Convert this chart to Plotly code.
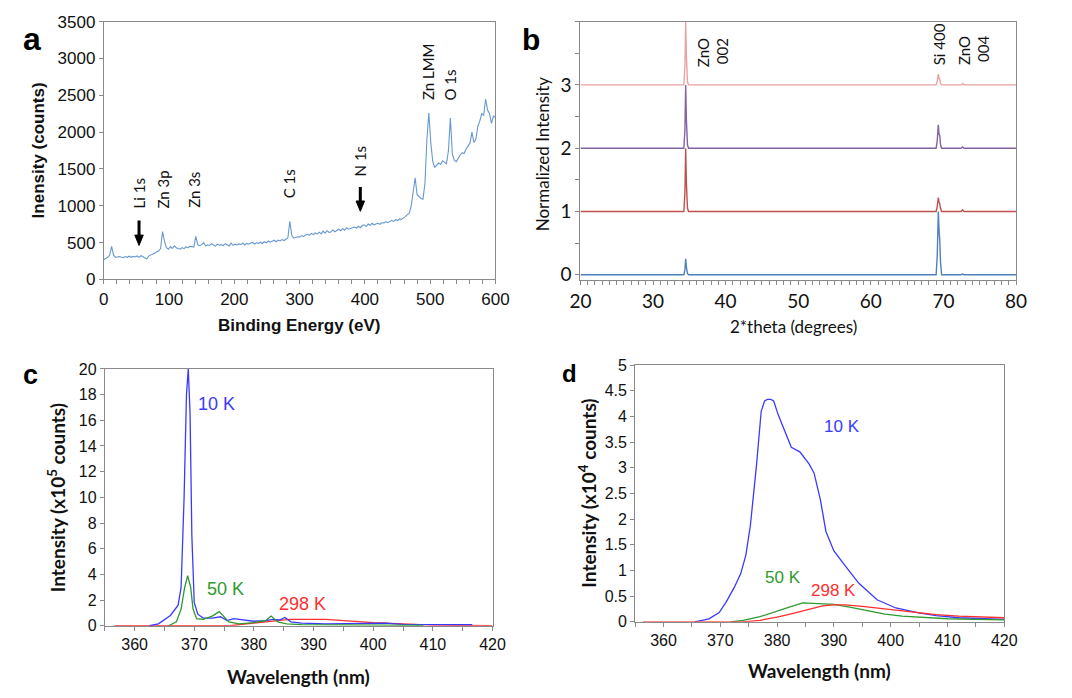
import plotly.graph_objects as go

# ---------------- (a) XPS survey spectrum ----------------
XPS_STEP_EV = 3
xps_counts = [
    270, 285, 300, 330, 450, 330, 300, 305, 310, 300,
    295, 310, 300, 315, 300, 312, 305, 318, 300, 322,
    312, 290, 280, 320, 330, 345, 355, 375, 385, 420,
    650, 520, 430, 410, 445, 420, 455, 430, 425, 410,
    432, 418, 445, 430, 452, 440, 438, 585, 470, 458,
    472, 500, 455, 470, 462, 485, 468, 452, 478, 465,
    472, 458, 485, 468, 455, 492, 462, 478, 468, 482,
    475, 492, 468, 488, 478, 495, 502, 480, 498, 490,
    505, 488, 512, 498, 522, 505, 515, 532, 512, 535,
    525, 542, 528, 548, 562, 790, 600, 560, 572, 580,
    575, 595, 582, 605, 612, 598, 625, 608, 630, 615,
    642, 618, 655, 628, 662, 640, 645, 672, 648, 662,
    682, 662, 692, 668, 702, 682, 692, 705, 712, 698,
    722, 702, 732, 742, 718, 752, 735, 762, 742, 752,
    762, 748, 772, 765, 785, 770, 792, 802, 788, 812,
    800, 822, 815, 832, 852, 880, 900, 1000, 1200, 1380,
    1150, 1120, 1100, 1090, 1300, 1900, 2260, 1850, 1600, 1520,
    1545, 1580, 1560, 1610, 1590, 1570, 1750, 2190, 1700, 1620,
    1600, 1650, 1690, 1720, 1710, 1770, 1820, 1850, 2000, 1860,
    1900, 2080, 2150, 2250, 2230, 2450, 2300, 2250, 2120, 2220,
    2200,
]
xps_energy = [i * XPS_STEP_EV for i in range(len(xps_counts))]

xps_peak_names = ["Li 1s", "Zn 3p", "Zn 3s", "C 1s", "N 1s", "Zn LMM", "O 1s"]
xps_peak_ev = [54, 91, 139, 284, 392, 497, 530]

# ---------------- (b) XRD patterns (normalized, stacked) ----------------
xrd_two_theta = [20.0, 33.2, 33.35, 33.5, 34.25, 34.4, 34.5, 34.6, 34.75, 34.9,
                 69.0, 69.15, 69.3, 69.4, 69.5, 69.6, 69.75, 72.45, 72.65, 72.85, 80.0]
xrd_sample0 = [0, 0, 0.01, 0, 0, 0.08, 0.25, 0.12, 0.02, 0,
               0, 0.3, 1.0, 0.7, 0.55, 0.2, 0, 0, 0.01, 0, 0]
xrd_sample1 = [0, 0, 0, 0, 0, 0.3, 1.0, 0.45, 0.05, 0,
               0, 0.08, 0.22, 0.15, 0.12, 0.05, 0, 0, 0.025, 0, 0]
xrd_sample2 = [0, 0, 0, 0, 0, 0.3, 1.0, 0.45, 0.05, 0,
               0, 0.12, 0.37, 0.22, 0.2, 0.06, 0, 0, 0.02, 0, 0]
xrd_sample3 = [0, 0, 0, 0, 0, 0.3, 1.0, 0.45, 0.05, 0,
               0, 0.06, 0.17, 0.1, 0.09, 0.03, 0, 0, 0.02, 0, 0]
xrd_offsets = [0, 1, 2, 3]
xrd_peak_names = ["ZnO<br>002", "Si 400", "ZnO<br>004"]

# ---------------- (c) PL spectra, x10^5 counts ----------------
c_10K_nm = [362.5, 364.0, 366.0, 367.3, 367.8, 368.3, 368.7, 369.0, 369.3, 369.6,
            370.0, 370.6, 371.5, 373.0, 374.4, 375.5, 376.6, 378.0, 380.0, 382.0,
            383.2, 384.3, 385.2, 386.2, 388.0, 392.0, 397.0, 402.0, 405.0, 410.0, 416.6]
c_10K = [0.0, 0.15, 0.8, 1.6, 3.0, 10.0, 18.0, 20.0, 16.5, 7.0,
         1.8, 0.9, 0.6, 0.6, 0.7, 0.4, 0.55, 0.45, 0.35, 0.4,
         0.5, 0.45, 0.65, 0.3, 0.2, 0.15, 0.2, 0.2, 0.1, 0.08, 0.08]
c_50K_nm = [365.7, 367.0, 367.8, 368.4, 368.9, 369.4, 369.8, 370.4, 371.5, 373.0,
            374.2, 375.0, 375.8, 377.5, 380.0, 382.0, 382.9, 384.0, 385.5, 388.0, 395.0, 408.4]
c_50K = [0.0, 0.3, 1.3, 3.0, 3.9, 3.0, 1.3, 0.55, 0.5, 0.75,
         1.1, 0.7, 0.3, 0.15, 0.25, 0.4, 0.75, 0.3, 0.15, 0.08, 0.05, 0.03]
c_298K_nm = [356.6, 376.0, 378.0, 381.0, 384.0, 386.0, 392.0, 396.0, 400.0, 405.0, 410.0, 420.0]
c_298K = [0.0, 0.0, 0.1, 0.25, 0.42, 0.5, 0.5, 0.35, 0.25, 0.15, 0.05, 0.0]

# ---------------- (d) PL spectra, x10^4 counts ----------------
d_10K_nm = [365.5, 368, 369.8, 371, 372.5, 373.6, 374.5, 375.3, 376.4, 377.2,
            377.8, 378.3, 378.9, 379.4, 380.2, 381.0, 382.5, 384.0, 385.6, 386.5,
            387.6, 388.6, 390.0, 392.2, 394.4, 397.6, 400.9, 404.7, 408, 412, 416, 420]
d_10K = [0.0, 0.06, 0.18, 0.38, 0.68, 0.94, 1.3, 1.88, 3.08, 4.1,
         4.3, 4.33, 4.33, 4.3, 4.03, 3.81, 3.40, 3.31, 3.08, 2.90,
         2.39, 1.76, 1.38, 1.06, 0.75, 0.43, 0.27, 0.18, 0.12, 0.08, 0.06, 0.05]
d_50K_nm = [371.8, 374, 377, 380, 382, 384.5, 387, 390, 393, 396, 399, 402, 406, 410, 415, 420]
d_50K = [0, 0.03, 0.1, 0.2, 0.28, 0.37, 0.35, 0.34, 0.28, 0.21, 0.15, 0.11, 0.08, 0.06, 0.05, 0.04]
d_298K_nm = [356.4, 374, 377, 380, 383, 386, 388, 390, 392, 395, 398, 401, 404, 408, 412, 416, 420]
d_298K = [0, 0.0, 0.03, 0.09, 0.17, 0.26, 0.31, 0.33, 0.33, 0.30, 0.26, 0.22, 0.18, 0.14, 0.11, 0.09, 0.08]

temp_labels = ["10 K", "50 K", "298 K"]

# ---------------- styling ----------------
W, H = 1072, 698
AX_GRAY = "#8a8a8a"
ARIAL = "Liberation Sans, Arial, sans-serif"
GILL = "Lato, sans-serif"
BLUE, GREEN, RED = "#3a3aff", "#2f9a2f", "#ff2e2e"
XRD_COLORS = ["#4f81bd", "#c0504d", "#8064a2", "#e8a3a1"]


def px_x(p):
    return p / W


def px_y(p):
    return 1 - p / H


fig = go.Figure()

# (a)
fig.add_trace(go.Scatter(x=xps_energy, y=xps_counts, mode="lines",
                         line=dict(color="#6798cf", width=1.1),
                         xaxis="x", yaxis="y", showlegend=False))

# (b)
for samp, off, col in zip([xrd_sample0, xrd_sample1, xrd_sample2, xrd_sample3],
                          xrd_offsets, XRD_COLORS):
    fig.add_trace(go.Scatter(x=xrd_two_theta, y=[v + off for v in samp], mode="lines",
                             line=dict(color=col, width=1.4),
                             xaxis="x2", yaxis="y2", showlegend=False))

# (c)
for xs, ys, col in [(c_298K_nm, c_298K, RED), (c_10K_nm, c_10K, BLUE), (c_50K_nm, c_50K, GREEN)]:
    fig.add_trace(go.Scatter(x=xs, y=ys, mode="lines", line=dict(color=col, width=1.3),
                             xaxis="x3", yaxis="y3", showlegend=False))

# (d)
for xs, ys, col in [(d_10K_nm, d_10K, BLUE), (d_50K_nm, d_50K, GREEN), (d_298K_nm, d_298K, RED)]:
    fig.add_trace(go.Scatter(x=xs, y=ys, mode="lines", line=dict(color=col, width=1.3),
                             xaxis="x4", yaxis="y4", showlegend=False))


def axis(domain, rng, anchor, font, size, dtick=None, tickvals=None, minor=None, fmt=None):
    d = dict(domain=domain, range=rng, anchor=anchor, showline=True, mirror=True,
             linecolor=AX_GRAY, linewidth=1, showgrid=False, zeroline=False,
             ticks="outside", ticklen=4, tickcolor=AX_GRAY, tickwidth=1,
             tickfont=dict(family=font, size=size, color="#111"))
    if dtick is not None:
        d.update(dtick=dtick, tick0=0)
    if tickvals is not None:
        d.update(tickmode="array", tickvals=tickvals)
    if minor is not None:
        d["minor"] = dict(dtick=minor, ticks="outside", ticklen=4, tickcolor=AX_GRAY)
    if fmt:
        d["tickformat"] = fmt
    return d


fig.update_layout(
    width=W, height=H, margin=dict(l=0, r=0, t=0, b=0),
    paper_bgcolor="white", plot_bgcolor="white",
    xaxis=axis([px_x(95), px_x(496)], [0, 600], "y", ARIAL, 17, dtick=100, minor=20),
    yaxis=axis([px_y(278), px_y(13)], [0, 3500], "x", ARIAL, 17, dtick=500, fmt="d"),
    xaxis2=axis([px_x(583), px_x(1029)], [20, 80], "y2", GILL, 19, dtick=10, minor=1),
    yaxis2=axis([px_y(279), px_y(13)], [-0.09, 4.0], "x2", GILL, 19,
                tickvals=[0, 1, 2, 3], minor=0.5),
    xaxis3=axis([px_x(96), px_x(493)], [355, 420], "y3", ARIAL, 16, dtick=10, minor=5),
    yaxis3=axis([px_y(634), px_y(370)], [0, 20], "x3", ARIAL, 16, dtick=2),
    xaxis4=axis([px_x(639), px_x(1017)], [355, 420], "y4", ARIAL, 16, dtick=10, minor=5),
    yaxis4=axis([px_y(630), px_y(366)], [0, 5], "x4", ARIAL, 16, dtick=0.5),
)

ann = []

# panel letters
for letter, (lx, ly), sz in [("a", (21, 31), 32), ("b", (532, 31), 30),
                             ("c", (20, 376), 27), ("d", (572, 375), 24)]:
    ann.append(dict(text=f"<b>{letter}</b>", x=px_x(lx), y=px_y(ly), xref="paper", yref="paper",
                    xanchor="center", yanchor="middle", showarrow=False,
                    font=dict(family=ARIAL, size=sz, color="#000")))

# axis titles
titles = [
    ("<b>Binding Energy (eV)</b>", 295, 325, 0, ARIAL, 17),
    ("<b>Inensity (counts)</b>", 28, 145, -90, ARIAL, 17),
    ("2*theta (degrees)", 801, 326, 0, GILL, 17),
    ("Normalized Intensity", 545, 149, -90, GILL, 17),
    ("<b>Wavelength (nm)</b>", 294, 686, 0, GILL, 19),
    ("<b>Intensity (x10<sup>5</sup> counts)</b>", 46, 502, -90, GILL, 19),
    ("<b>Wavelength (nm)</b>", 828, 680, 0, GILL, 19),
    ("<b>Intensity (x10<sup>4</sup> counts)</b>", 590, 498, -90, GILL, 19),
]
for txt, tx, ty, ang, fam, sz in titles:
    ann.append(dict(text=txt, x=px_x(tx), y=px_y(ty), xref="paper", yref="paper",
                    xanchor="center", yanchor="middle", showarrow=False, textangle=ang,
                    font=dict(family=fam, size=sz, color="#111")))

# (a) peak labels, rotated
xps_label_base = [938, 938, 938, 1070, 1374, 2404, 2404]
for name, ev, yb in zip(xps_peak_names, xps_peak_ev, xps_label_base):
    ann.append(dict(text=name, x=ev, y=yb, xref="x", yref="y", showarrow=False,
                    textangle=-90, xanchor="center", yanchor="bottom",
                    font=dict(family=GILL, size=15, color="#111")))

# (b) reflection labels
for name, tt, yb in zip(xrd_peak_names, [38.2, 69.4, 74.2], [3.25, 3.28, 3.29]):
    ann.append(dict(text=name, x=tt, y=yb, xref="x2", yref="y2", showarrow=False,
                    textangle=-90, xanchor="center", yanchor="bottom", align="right",
                    font=dict(family=GILL, size=15, color="#111")))

# (c) and (d) temperature labels
for lbl, col, (cx, cy), (dx, dy) in zip(
        temp_labels, [BLUE, GREEN, RED],
        [(373.8, 17.3), (375.3, 2.9), (388.2, 1.67)],
        [(391.4, 3.8), (381.1, 0.87), (390.0, 0.62)]):
    ann.append(dict(text=lbl, x=cx, y=cy, xref="x3", yref="y3", showarrow=False,
                    font=dict(family=ARIAL, size=18, color=col)))
    ann.append(dict(text=lbl, x=dx, y=dy, xref="x4", yref="y4", showarrow=False,
                    font=dict(family=ARIAL, size=17, color=col)))

# (a) down arrows marking Li 1s and N 1s: shaft + filled head, in data units
shapes = []
for ev, tail, tip in [(54, 800, 462), (393, 1255, 925)]:
    shapes.append(dict(type="line", xref="x", yref="y", x0=ev, x1=ev, y0=tail, y1=tip + 90,
                       line=dict(color="#000", width=3)))
    shapes.append(dict(type="path", xref="x", yref="y",
                       path=f"M {ev - 6.5},{tip + 140} L {ev + 6.5},{tip + 140} L {ev},{tip} Z",
                       fillcolor="#000", line=dict(color="#000", width=1)))
fig.update_layout(annotations=ann, shapes=shapes)
fig.write_html("out.html")
